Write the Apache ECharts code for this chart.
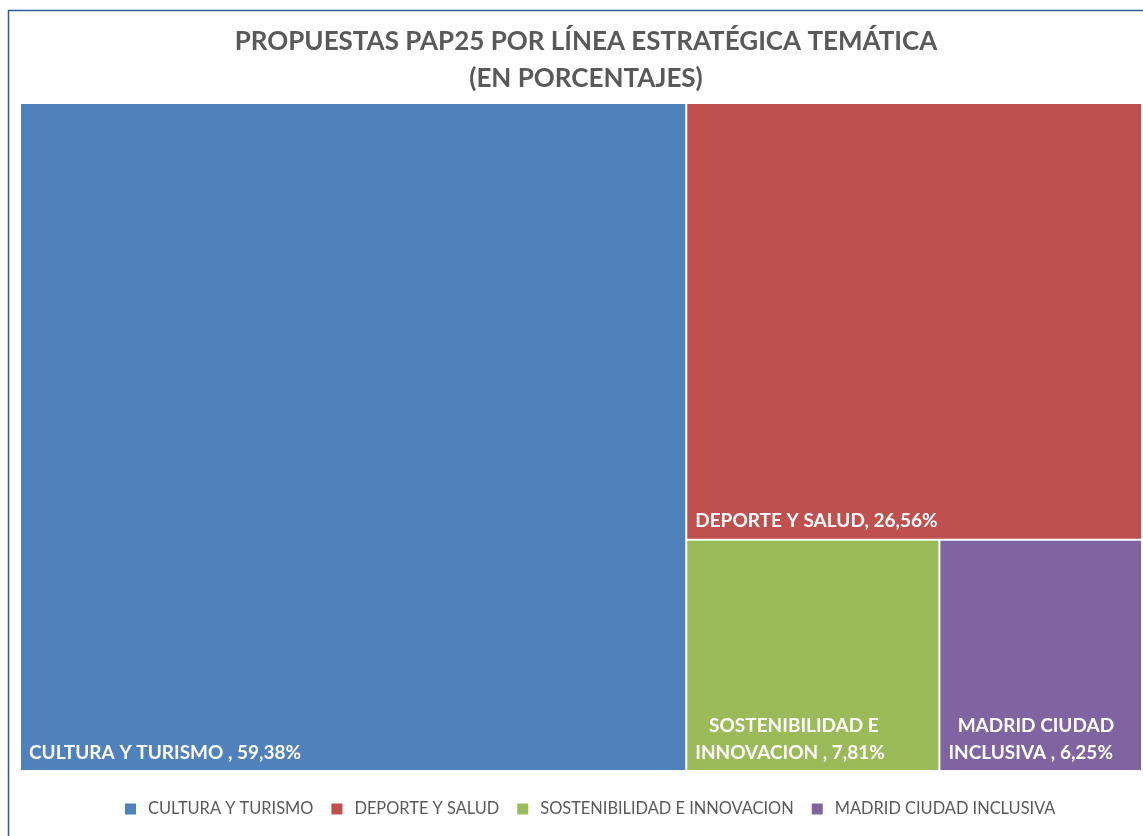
<!DOCTYPE html>
<html>
<head>
<meta charset="utf-8">
<script src="https://cdn.jsdelivr.net/npm/echarts@6/dist/echarts.min.js"></script>
<style>
html,body{margin:0;padding:0;background:#fff;}
#chart{width:1143px;height:836px;}
</style>
</head>
<body>
<div id="chart"></div>
<script>
const titleText = 'PROPUESTAS PAP25 POR LÍNEA ESTRATÉGICA TEMÁTICA\n(EN PORCENTAJES)';
const categories = ['CULTURA Y TURISMO', 'DEPORTE Y SALUD', 'SOSTENIBILIDAD E INNOVACION', 'MADRID CIUDAD INCLUSIVA'];
const values = [59.38, 26.56, 7.81, 6.25];
const labelTexts = [
  'CULTURA Y TURISMO , 59,38%',
  'DEPORTE Y SALUD, 26,56%',
  '   SOSTENIBILIDAD E\nINNOVACION , 7,81%',
  '  MADRID CIUDAD\nINCLUSIVA , 6,25%'
];
const colors = ['#4f81bd', '#c0504d', '#9bbb59', '#8064a2'];

const FONT = 'Lato';

const treeData = categories.map((c, i) => ({
  name: c,
  value: values[i],
  itemStyle: { color: colors[i] },
  label: { formatter: () => labelTexts[i] }
}));

const chart = echarts.init(document.getElementById('chart'), null, { renderer: 'canvas' });
chart.setOption({
  animation: false,
  color: colors,
  title: {
    text: titleText,
    left: 581,
    top: 18,
    textAlign: 'center',
    textStyle: {
      fontFamily: FONT,
      fontWeight: 'bold',
      fontSize: 26,
      lineHeight: 37,
      color: '#595959'
    }
  },
  legend: {
    top: 796,
    left: 120,
    icon: 'rect',
    itemWidth: 11,
    itemHeight: 11,
    itemGap: 18,
    textStyle: { fontFamily: FONT, fontSize: 16.4, color: '#595959', padding: [0, 0, 0, 7] },
    data: categories,
    selectedMode: false
  },
  graphic: [{
    type: 'rect',
    shape: { x: 8.5, y: 10.5, width: 1200, height: 900 },
    style: { fill: 'none', stroke: '#2f5a96', lineWidth: 1.5 },
    silent: true,
    z: 100
  }],
  series: [
    {
      type: 'treemap',
      left: 21,
      top: 104,
      right: 2,
      bottom: 66,
      roam: false,
      nodeClick: false,
      breadcrumb: { show: false },
      squareRatio: 0.5 * (1 + Math.sqrt(5)),
      itemStyle: { borderWidth: 0, gapWidth: 2, borderColor: '#fff' },
      label: {
        show: true,
        position: 'insideBottomLeft',
        align: 'left',
        verticalAlign: 'bottom',
        padding: [0, 0, 4, 8],
        color: '#fff',
        fontFamily: FONT,
        fontWeight: 'bold',
        fontSize: 19,
        lineHeight: 27
      },
      data: treeData
    },
    {
      type: 'pie',
      radius: [0, 0],
      center: [-100, -100],
      silent: true,
      label: { show: false },
      labelLine: { show: false },
      data: categories.map((c, i) => ({ name: c, value: values[i], itemStyle: { color: colors[i] } }))
    }
  ]
});
</script>
</body>
</html>
